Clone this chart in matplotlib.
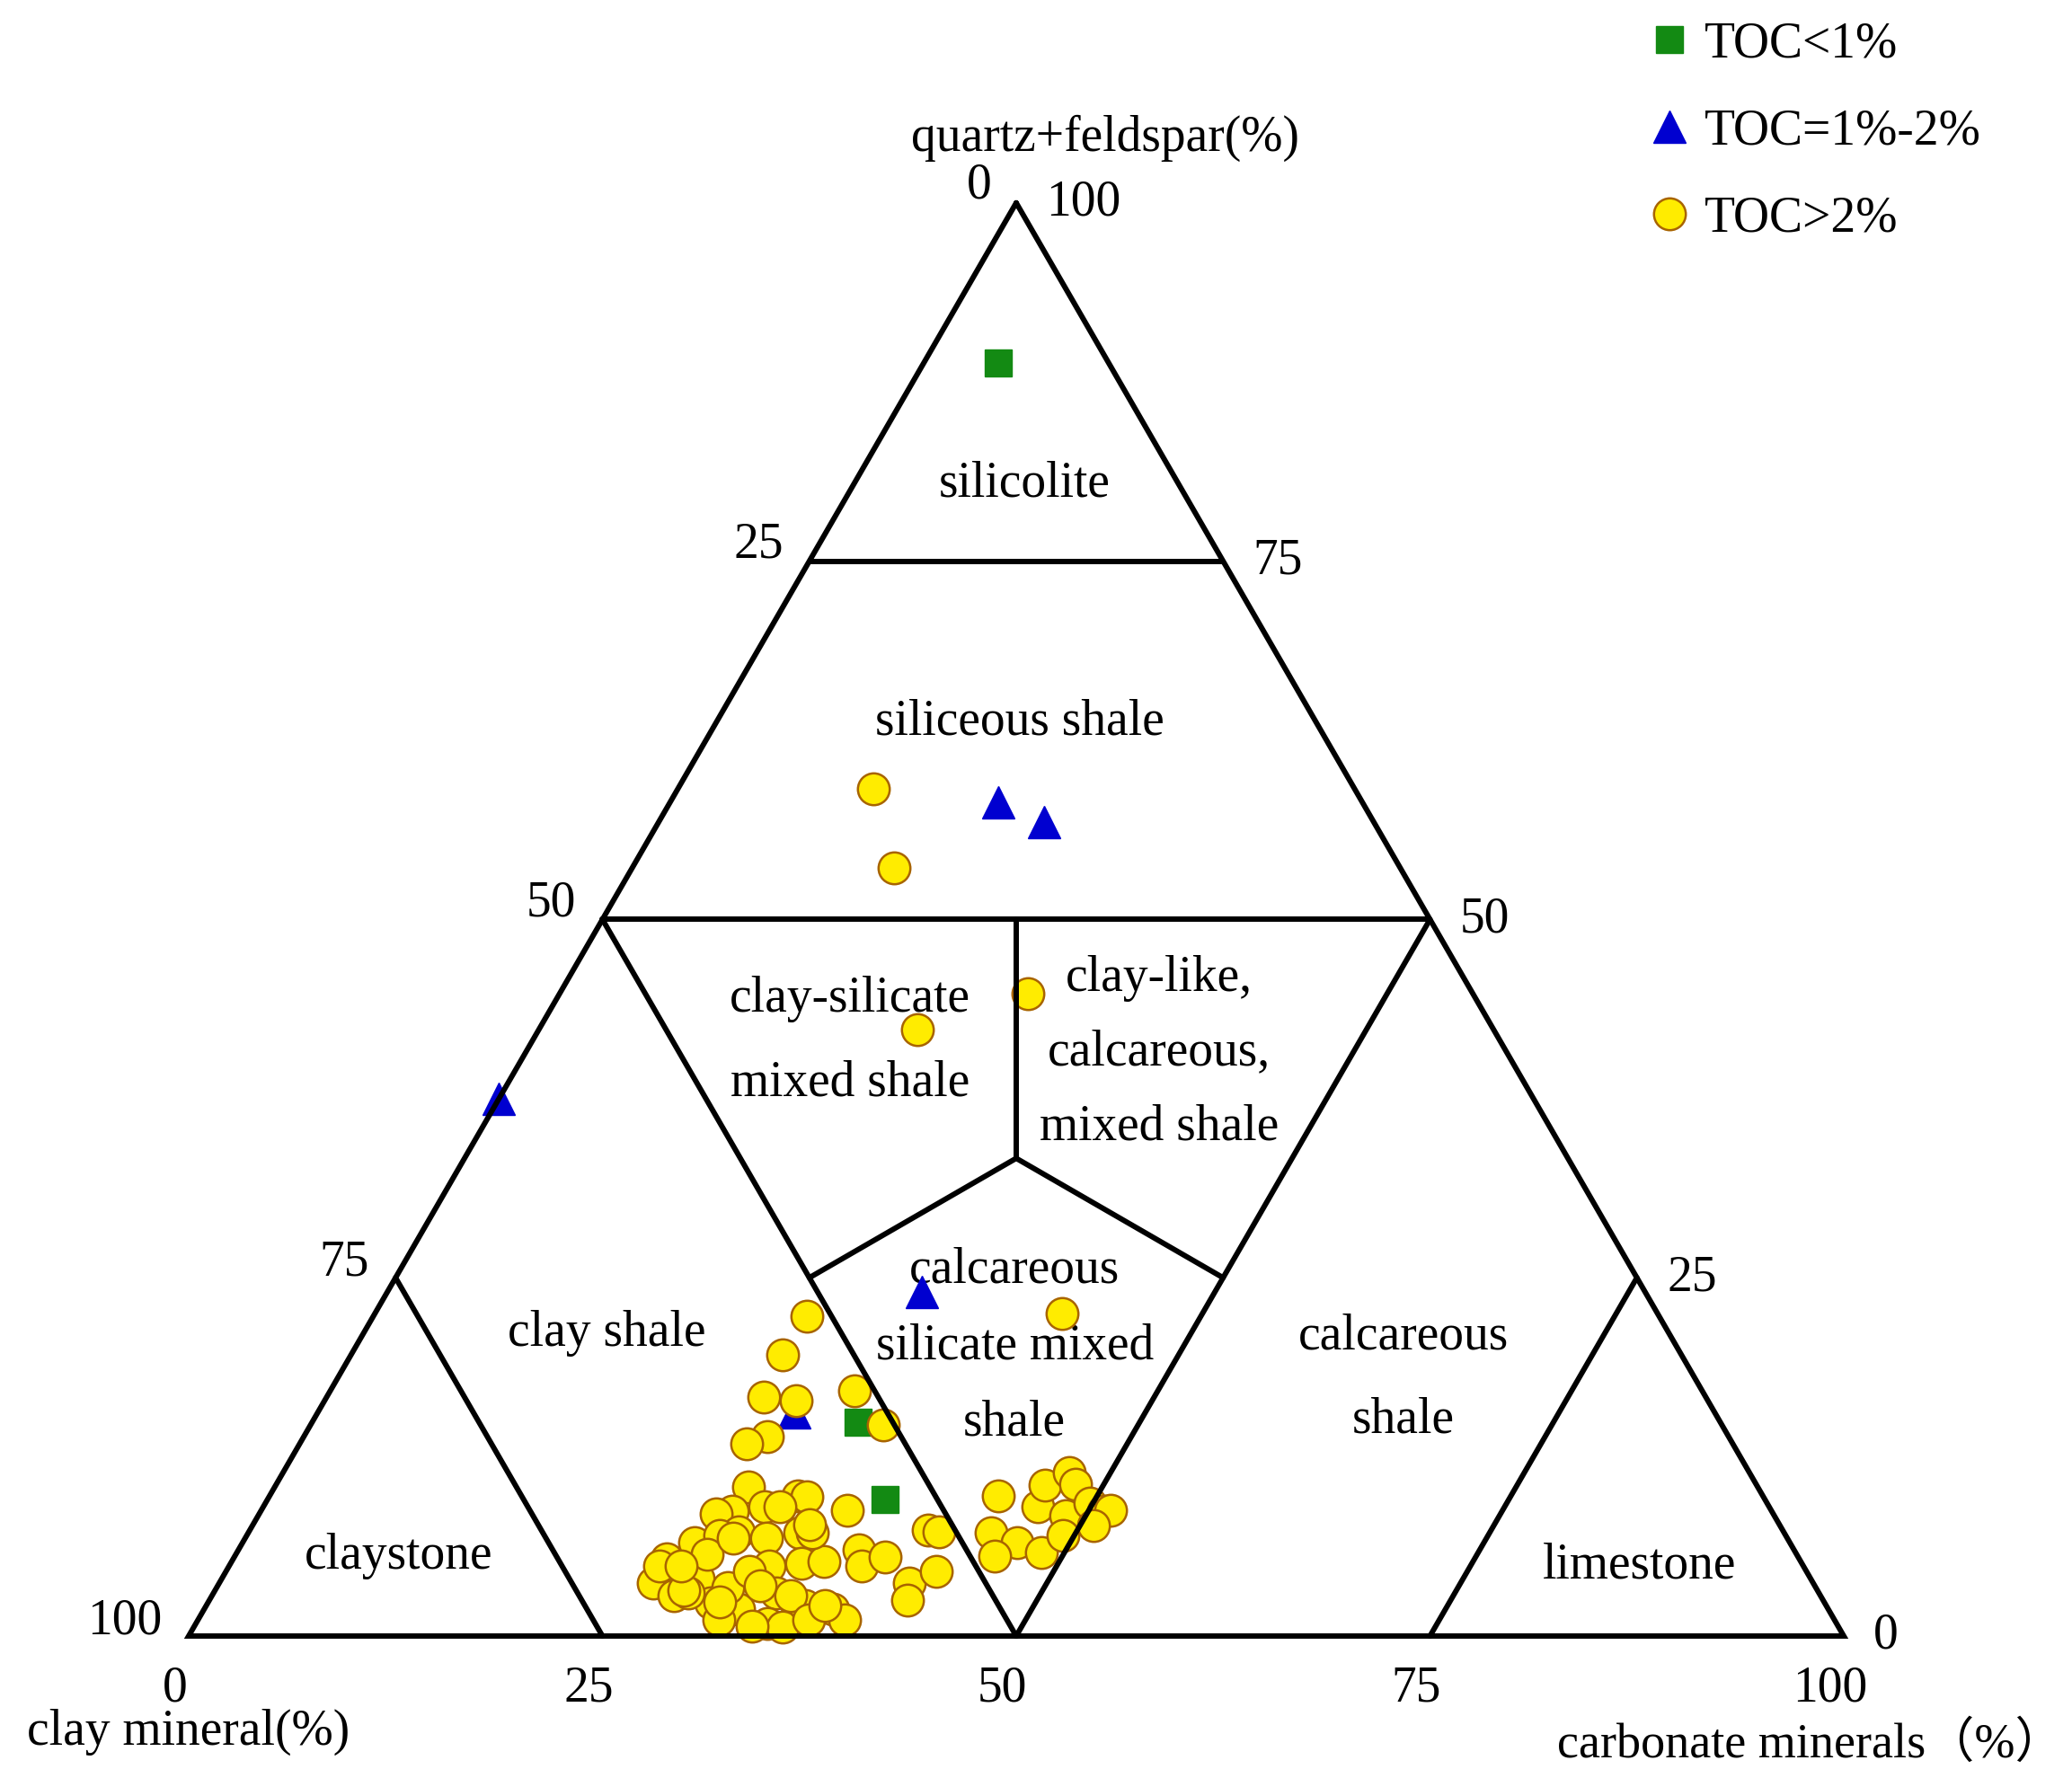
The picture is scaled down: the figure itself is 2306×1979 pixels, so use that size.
import matplotlib.pyplot as plt
import numpy as np

# ternary data: quartz+feldspar (%) and carbonate (%), clay = 100 - both
toc_low_quartz = [88.8, 14.9, 9.5]
toc_low_carb = [4.5, 33.0, 37.3]

toc_mid_quartz = [58.2, 56.8, 37.5, 24.0, 15.6]
toc_mid_carb = [19.8, 23.3, 0.0, 32.3, 28.8]

toc_high_quartz = [
    10.4, 9.0, 8.7, 8.5, 7.3, 6.8, 7.2, 9.8, 6.5, 7.0,
    5.4, 3.7, 4.0, 2.8, 2.3, 1.9, 4.9, 3.4, 3.0, 0.9,
    2.1, 5.1, 0.6, 3.0, 5.7, 4.5,
    8.8, 7.4, 7.3, 6.0, 4.9, 5.5, 5.2, 3.7, 2.5, 4.5,
    1.9, 1.1, 2.1, 9.7,
    9.8, 7.2, 6.5, 5.6, 5.8, 9.0, 10.5, 11.4, 10.6, 8.4,
    7.0, 9.3, 8.7, 8.8, 7.7,
    22.3, 19.6, 16.7, 16.4, 13.9, 13.4, 17.1, 14.7,
    59.1, 53.6, 44.8, 42.3, 22.5,
    7.2, 2.8, 1.1, 7.8, 4.9, 3.2, 1.1, 0.7,
    4.9, 2.4, 3.5, 2.1, 6.8, 9.0,
]
toc_high_carb = [
    28.6, 30.3, 28.5, 27.6, 29.6, 31.5, 33.3, 31.9, 27.3, 28.6,
    26.2, 26.2, 28.8, 27.9, 30.4, 32.3, 32.6, 30.9, 34.0, 34.5,
    35.7, 34.5, 35.6, 28.7, 28.5, 31.6,
    35.4, 41.0, 41.7, 37.5, 38.2, 39.3, 35.8, 41.7, 42.2, 42.9,
    38.0, 39.1, 36.2, 32.5,
    44.0, 44.9, 46.8, 45.9, 48.6, 46.8, 46.5, 47.5, 48.3, 48.8,
    49.3, 49.8, 50.9, 51.3, 50.8,
    26.2, 26.1, 26.4, 28.5, 28.0, 27.0, 31.7, 34.6,
    11.8, 15.8, 28.3, 22.9, 41.5,
    34.1, 35.0, 36.9, 33.6, 26.0, 28.3, 31.5, 33.7,
    27.3, 30.9, 32.8, 37.4, 29.5, 31.2,
]

# region boundaries as (quartz, carbonate) pairs
boundaries = [
    [(100, 0), (0, 0), (0, 100), (100, 0)],
    [(75, 0), (75, 25)],
    [(50, 0), (50, 50)],
    [(50, 0), (0, 50)],
    [(50, 50), (0, 50)],
    [(100 / 3, 100 / 3), (50, 25)],
    [(100 / 3, 100 / 3), (25, 25)],
    [(100 / 3, 100 / 3), (25, 50)],
    [(25, 0), (0, 25)],
    [(25, 75), (0, 75)],
]

region_names = ["silicolite", "siliceous shale", "clay-silicate\nmixed shale",
                "clay-like,\ncalcareous,\nmixed shale", "calcareous\nsilicate mixed\nshale",
                "clay shale", "calcareous\nshale", "claystone", "limestone"]
region_pos = [(80.4, 10.3), (63.8, 18.3), (41.5, 19.2), (40.7, 38.3), (20.2, 39.8),
              (21.1, 14.7), (18.0, 64.4), (5.6, 9.9), (4.9, 85.2)]
region_spacing = [1.2, 1.2, 2.05, 1.78, 1.83, 1.2, 2.02, 1.2, 1.2]

ticks = [0, 25, 50, 75, 100]

H = np.sqrt(3) / 2


def to_xy(q, c):
    q = np.asarray(q, dtype=float)
    c = np.asarray(c, dtype=float)
    return c + q / 2, q * H


plt.rcParams['font.family'] = ['Liberation Serif', 'Noto Sans CJK SC']
plt.rcParams['font.size'] = 40

fig = plt.figure(figsize=(23.06, 19.79), dpi=100)
ax = fig.add_axes([0, 0, 1, 1])
ax.set_xlim(-11.40, 113.79)
ax.set_ylim(-8.58, 98.86)
ax.axis('off')

# region lines
for seg in boundaries:
    q, c = zip(*seg)
    x, y = to_xy(q, c)
    ax.plot(x, y, color='black', lw=4.3, zorder=5, solid_capstyle='round',
            solid_joinstyle='miter')

# region labels
for name, (q, c), ls in zip(region_names, region_pos, region_spacing):
    x, y = to_xy(q, c)
    ax.text(x, y, name, ha='center', va='center', fontsize=40,
            linespacing=ls, zorder=2)

# tick labels on the three edges
left_off = {0: (-30, 14), 25: (-41, 13), 50: (-41, 13), 75: (-41, 12), 100: (-51, 12)}
right_off = {0: (34, 0), 25: (44, 0), 50: (44, 0), 75: (44, 0), 100: (54, 0)}
for t in ticks:
    # left edge: clay (0 at top, 100 at bottom-left)
    x, y = to_xy(100 - t, 0)
    ax.annotate(str(t), (x, y), xytext=left_off[t], textcoords='offset points',
                ha='center', va='center', fontsize=40)
    # right edge: quartz+feldspar
    x, y = to_xy(t, 100 - t)
    ax.annotate(str(t), (x, y), xytext=right_off[t], textcoords='offset points',
                ha='center', va='center', fontsize=40)
    # bottom: carbonate
    x, y = to_xy(0, t)
    ax.annotate(str(t), (x, y), xytext=(-11, -42), textcoords='offset points',
                ha='center', va='center', fontsize=40)

xa, ya = to_xy(100, 0)
ax.annotate("quartz+feldspar(%)", (xa, ya), xytext=(71, 52), textcoords='offset points',
            ha='center', va='center', fontsize=40)
xa, ya = to_xy(0, 0)
ax.annotate("clay mineral(%)", (xa, ya), xytext=(0, -77), textcoords='offset points',
            ha='center', va='center', fontsize=40)
xa, ya = to_xy(0, 100)
ax.annotate("carbonate minerals（%）", (xa, ya), xytext=(-27, -87), textcoords='offset points',
            ha='center', va='center', fontsize=39)

# data points
x, y = to_xy(toc_low_quartz, toc_low_carb)
ax.plot(x, y, 's', ms=21, color='#138a13', mec='#138a13', ls='none', zorder=3,
        label='TOC<1%')
x, y = to_xy(toc_mid_quartz, toc_mid_carb)
ax.plot(x, y, '^', ms=26, color='#0000d0', mec='#0000d0', ls='none', zorder=3,
        label='TOC=1%-2%')
x, y = to_xy(toc_high_quartz, toc_high_carb)
ax.plot(x, y, 'o', ms=25.5, color='#ffec00', mec='#a86400', mew=1.8, ls='none',
        zorder=4, label='TOC>2%')

ax.legend(loc='upper left', bbox_to_anchor=(1830 / 2306, 1 - 12 / 1979),
          frameon=False, fontsize=40, handlelength=0.6, handletextpad=0.4,
          labelspacing=0.81, borderpad=0.2, borderaxespad=0)

fig.savefig('out.png', dpi=100)
